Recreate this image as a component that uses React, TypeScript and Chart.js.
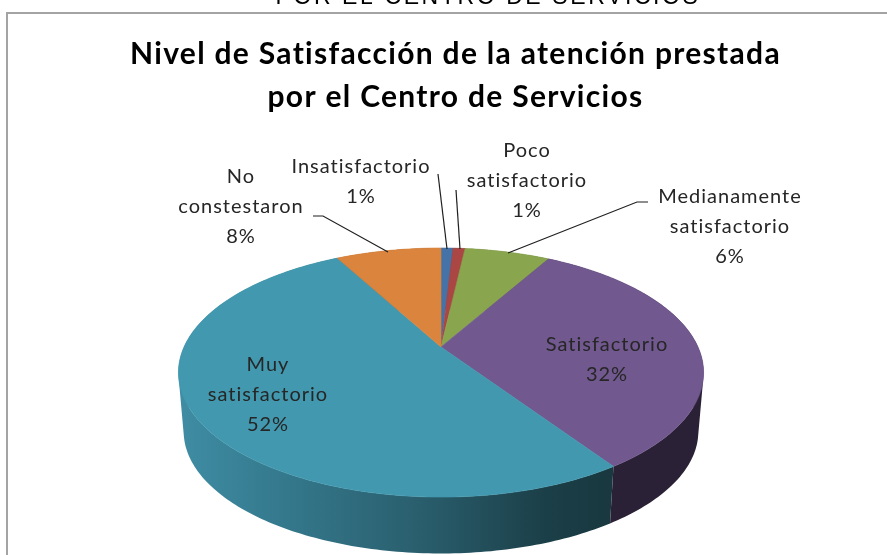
import React, { useEffect, useRef } from "react";
import Chart from "chart.js/auto";

const categories = ["Insatisfactorio", "Poco satisfactorio", "Medianamente satisfactorio", "Satisfactorio", "Muy satisfactorio", "No constestaron"];
const values = [0.9, 0.9, 6.4, 32.4, 51.5, 7.9];
const percentLabels = ["1%", "1%", "6%", "32%", "52%", "8%"];
const titleLines = ["Nivel de Satisfacción de la atención prestada", "por el Centro de Servicios"];
const headingText = "POR EL CENTRO DE SERVICIOS";
const sliceColors = ["#4572A7", "#AA4643", "#89A54E", "#71588F", "#4198AF", "#DB843D"];
const sideColors = ["#2a4565", "#672a28", "#53642f", "#2b2137", "#19383f", "#854f25"];

// layout of the label blocks: centre x and y of first line, with the wrapped lines
const labelLayout = [
  { x: 361, y: 167, lines: ["Insatisfactorio"] },
  { x: 527, y: 151, lines: ["Poco", "satisfactorio"] },
  { x: 730, y: 197, lines: ["Medianamente", "satisfactorio"] },
  { x: 607, y: 345, lines: ["Satisfactorio"] },
  { x: 268, y: 365, lines: ["Muy", "satisfactorio"] },
  { x: 241, y: 177, lines: ["No", "constestaron"] },
];
const leaderLines = [
  [[438, 174], [447, 249]],
  [[456, 190], [460, 249]],
  [[648, 202], [637, 202], [508, 253]],
  [],
  [],
  [[313, 216], [323, 216], [388, 252]],
];

const PIE = { cx: 441, cy: 347, A: 257, B: 119.3, k: 0.205, depth: 59.4, bottomScale: 0.98 };

function project(angle: number) {
  const x = Math.cos(angle);
  const y = Math.sin(angle);
  const d = 1 - PIE.k * y;
  return { x: PIE.cx + (PIE.A * x) / d, y: PIE.cy + (PIE.B * y) / d };
}
function projectBottom(angle: number) {
  const p = project(angle);
  return {
    x: PIE.cx + (p.x - PIE.cx) * PIE.bottomScale,
    y: PIE.cy + (p.y - PIE.cy) * PIE.bottomScale + PIE.depth,
  };
}
function samples(a0: number, a1: number) {
  const n = Math.max(4, Math.ceil((a1 - a0) * 60));
  const out: number[] = [];
  for (let i = 0; i <= n; i++) out.push(a0 + ((a1 - a0) * i) / n);
  return out;
}
function signedArea(q: { x: number; y: number }[]) {
  let s = 0;
  q.forEach((p, i) => {
    const n = q[(i + 1) % q.length];
    s += p.x * n.y - n.x * p.y;
  });
  return s;
}

const pie3d = {
  id: "pie3d",
  beforeDraw(chart: any) {
    const ctx = chart.ctx;
    ctx.save();
    ctx.fillStyle = "#ffffff";
    ctx.fillRect(0, 0, 887, 555);
    ctx.fillStyle = "#000000";
    ctx.font = "23px 'Liberation Sans'";
    ctx.letterSpacing = "2.6px";
    ctx.textAlign = "center";
    ctx.textBaseline = "alphabetic";
    ctx.fillText(headingText, 488, 3.5);
    ctx.strokeStyle = "#a4a4a4";
    ctx.lineWidth = 2;
    ctx.beginPath();
    ctx.moveTo(7, 556);
    ctx.lineTo(7, 13);
    ctx.lineTo(888, 13);
    ctx.stroke();
    ctx.restore();
    ctx.letterSpacing = "1.3px"; // inherited by the title box
  },
  beforeDatasetDraw(chart: any) {
    const ctx = chart.ctx;
    const arcs = chart.getDatasetMeta(0).data;
    ctx.save();
    // sides: all strips between the top rim and the bottom rim go in one path, wound the same way
    arcs.forEach((arc: any, i: number) => {
      let style: any = sideColors[i];
      if (i === 4) {
        const g = ctx.createLinearGradient(178, 0, 611, 0);
        g.addColorStop(0, "#3f8da4");
        g.addColorStop(0.25, "#34788c");
        g.addColorStop(0.55, "#2a5f6e");
        g.addColorStop(0.85, "#1b3f48");
        g.addColorStop(1, "#19383f");
        style = g;
      }
      ctx.fillStyle = style;
      const s = samples(arc.startAngle, arc.endAngle);
      ctx.beginPath();
      for (let j = 0; j < s.length - 1; j++) {
        const q = [project(s[j]), project(s[j + 1]), projectBottom(s[j + 1]), projectBottom(s[j])];
        if (signedArea(q) < 0) q.reverse();
        q.forEach((p, n) => (n ? ctx.lineTo(p.x, p.y) : ctx.moveTo(p.x, p.y)));
        ctx.closePath();
      }
      ctx.fill("nonzero");
    });
    // top face
    arcs.forEach((arc: any, i: number) => {
      ctx.beginPath();
      ctx.moveTo(PIE.cx, PIE.cy);
      samples(arc.startAngle, arc.endAngle).forEach((a) => {
        const p = project(a);
        ctx.lineTo(p.x, p.y);
      });
      ctx.closePath();
      ctx.fillStyle = sliceColors[i];
      ctx.strokeStyle = sliceColors[i];
      ctx.lineWidth = 0.6;
      ctx.fill();
      ctx.stroke();
    });
    ctx.restore();
    return false;
  },
  afterDatasetsDraw(chart: any) {
    const ctx = chart.ctx;
    ctx.save();
    ctx.strokeStyle = "#1f1f1f";
    ctx.lineWidth = 1.2;
    leaderLines.forEach((pts) => {
      if (!pts.length) return;
      ctx.beginPath();
      pts.forEach((p, j) => (j ? ctx.lineTo(p[0], p[1]) : ctx.moveTo(p[0], p[1])));
      ctx.stroke();
    });
    ctx.fillStyle = "#262626";
    ctx.font = "20px Lato";
    ctx.letterSpacing = "1px";
    ctx.textAlign = "center";
    ctx.textBaseline = "middle";
    labelLayout.forEach((l, i) => {
      const lines = [...l.lines, percentLabels[i]];
      lines.forEach((t, j) => ctx.fillText(t, l.x, l.y + j * 30));
    });
    ctx.restore();
  },
};

export default function App() {
  const ref = useRef<HTMLCanvasElement | null>(null);
  useEffect(() => {
    const chart = new Chart(ref.current as HTMLCanvasElement, {
      type: "pie",
      data: {
        labels: categories,
        datasets: [{ data: values, backgroundColor: sliceColors, borderWidth: 0 }],
      },
      options: {
        responsive: false,
        animation: false,
        layout: { padding: { left: 24 } },
        plugins: {
          legend: { display: false },
          tooltip: { enabled: false },
          title: {
            display: true,
            text: titleLines,
            color: "#000000",
            font: { family: "Lato", size: 30, weight: "bold", lineHeight: 1.43 },
            padding: { top: 33, bottom: 0 },
          },
        },
      },
      plugins: [pie3d],
    } as any);
    return () => chart.destroy();
  }, []);
  return (
    <div style={{ position: "absolute", left: 0, top: 0, width: 887, height: 555, overflow: "hidden" }}>
      <canvas ref={ref} width={887} height={555} style={{ display: "block" }} />
    </div>
  );
}
